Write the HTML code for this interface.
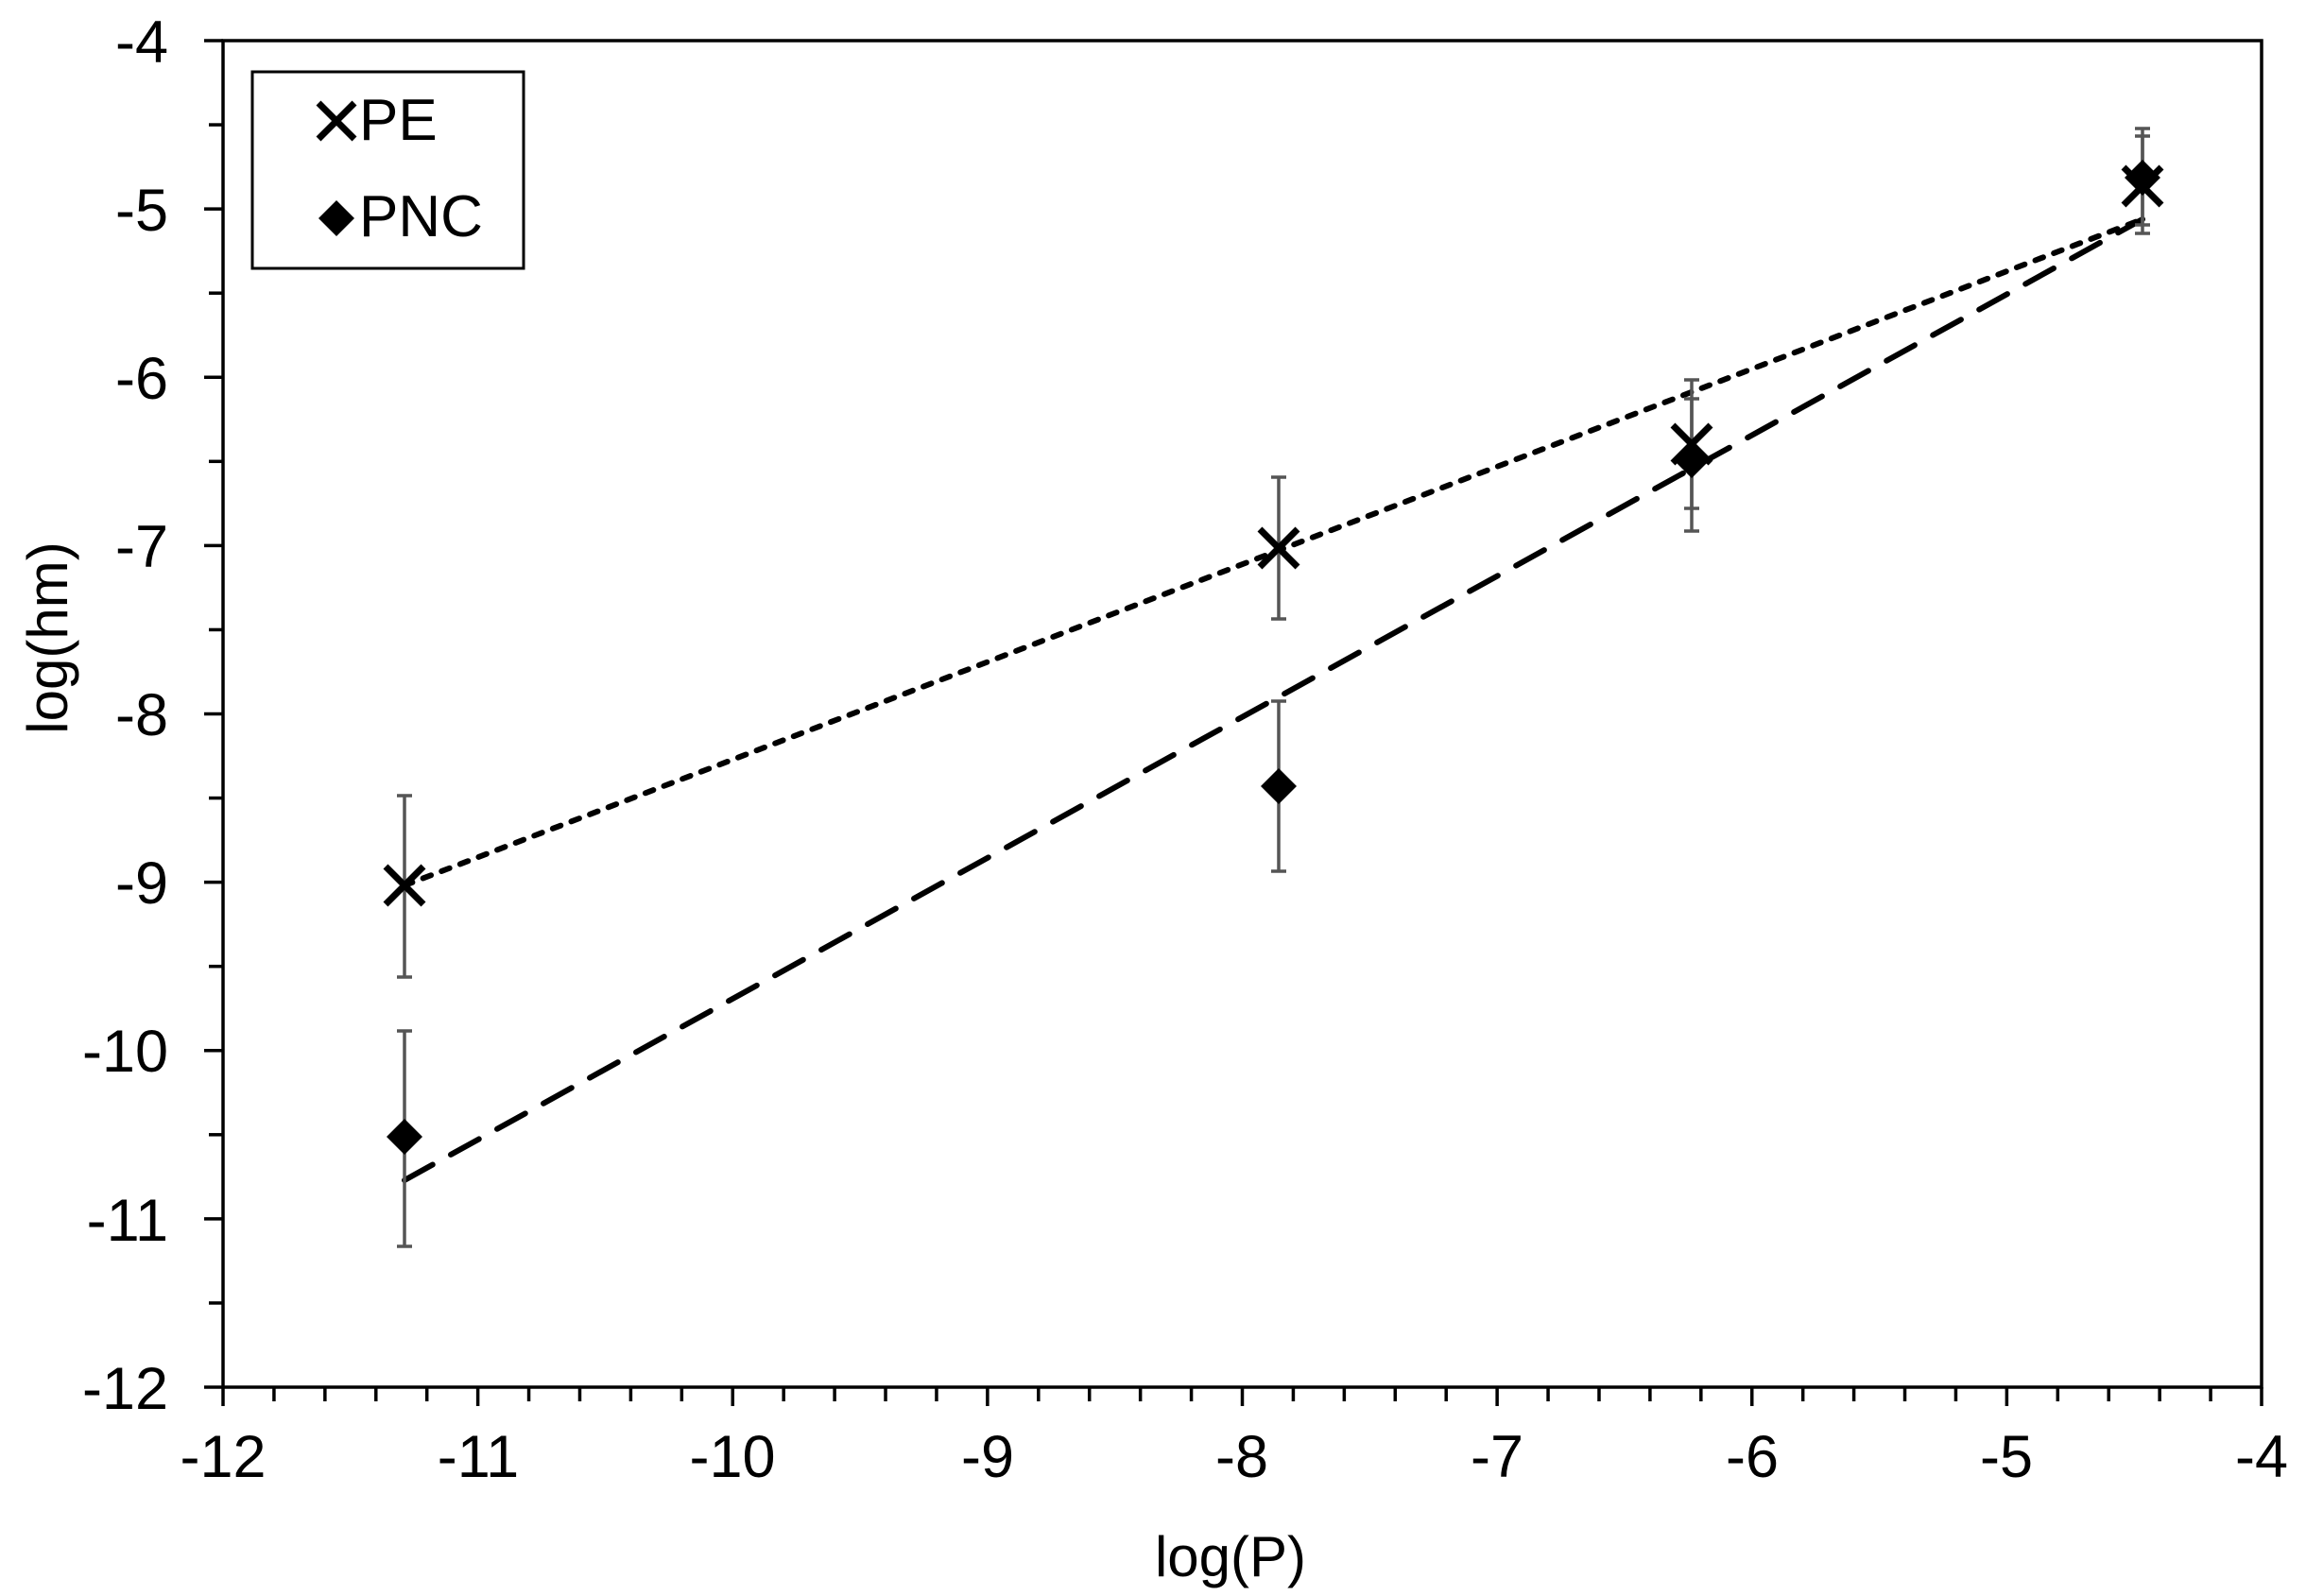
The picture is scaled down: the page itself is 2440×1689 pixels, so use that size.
<!DOCTYPE html>
<html><head><meta charset="utf-8"><style>
html,body{margin:0;padding:0;background:#fff;}
svg{display:block;}
text{font-family:"Liberation Sans",Arial,sans-serif;fill:#000;}
</style></head><body>
<svg width="2440" height="1689" viewBox="0 0 2440 1689" xmlns="http://www.w3.org/2000/svg">
<rect width="2440" height="1689" fill="#fff"/>
<g id="ticks" stroke="#000" stroke-width="3.5">
</g>
<rect x="236" y="43" width="2157" height="1425" fill="none" stroke="#000" stroke-width="3.5"/>
<script>
(function(){
var ns="http://www.w3.org/2000/svg",g=document.getElementById("ticks");
function ln(x1,y1,x2,y2){var l=document.createElementNS(ns,"line");l.setAttribute("x1",x1);l.setAttribute("y1",y1);l.setAttribute("x2",x2);l.setAttribute("y2",y2);g.appendChild(l);}
for(var i=0;i<=40;i++){var x=236+i*2157/40;ln(x,1468,x,i%5==0?1488:1483);}
for(var j=0;j<=16;j++){var y=43+j*1425/16;ln(j%2==0?216:221,y,236,y);}
})();
</script>
<g font-size="63" text-anchor="end">
<text x="178" y="66">-4</text>
<text x="178" y="244">-5</text>
<text x="178" y="422">-6</text>
<text x="178" y="600">-7</text>
<text x="178" y="778">-8</text>
<text x="178" y="956">-9</text>
<text x="178" y="1134">-10</text>
<text x="178" y="1313">-11</text>
<text x="178" y="1491">-12</text>
</g>
<g font-size="63" text-anchor="middle">
<text x="236" y="1563">-12</text>
<text x="506" y="1563">-11</text>
<text x="775" y="1563">-10</text>
<text x="1045" y="1563">-9</text>
<text x="1314" y="1563">-8</text>
<text x="1584" y="1563">-7</text>
<text x="1854" y="1563">-6</text>
<text x="2123" y="1563">-5</text>
<text x="2393" y="1563">-4</text>
<text x="1302" y="1668" font-size="60">log(P)</text>
<text x="0" y="0" font-size="60" transform="translate(71,675) rotate(-90)">log(hm)</text>
</g>
<line x1="428" y1="937" x2="2267" y2="232" stroke="#000" stroke-width="6" stroke-linecap="round" stroke-dasharray="9 12"/>
<line x1="428" y1="1249" x2="2267" y2="232" stroke="#000" stroke-width="6" stroke-linecap="round" stroke-dasharray="34 22"/>
<g stroke="#555" stroke-width="3.5" fill="none">
<path d="M428 842V1034M420 842H436M420 1034H436"/>
<path d="M428 1091V1319M420 1091H436M420 1319H436"/>
<path d="M1353 505V655M1345 505H1361M1345 655H1361"/>
<path d="M1353 742V922M1345 742H1361M1345 922H1361"/>
<path d="M1790 402V538M1782 402H1798M1782 538H1798"/>
<path d="M1790 422V562M1782 422H1798M1782 562H1798"/>
<path d="M2267 136V238M2259 136H2275M2259 238H2275"/>
<path d="M2267 144V247M2259 144H2275M2259 247H2275"/>
</g>
<g fill="#000">
<path d="M428 1184l19 19-19 19-19-19z"/>
<path d="M1353 813l19 19-19 19-19-19z"/>
<path d="M1790 468l19 19-19 19-19-19z"/>
<path d="M2267 169l19 19-19 19-19-19z"/>
</g>
<g stroke="#000" stroke-width="7">
<path d="M408 917l40 40M448 917l-40 40"/>
<path d="M1333 560l40 40M1373 560l-40 40"/>
<path d="M1770 450l40 40M1810 450l-40 40"/>
<path d="M2247 177l40 40M2287 177l-40 40"/>
</g>
<rect x="267" y="76" width="287" height="208" fill="#fff" stroke="#000" stroke-width="3"/>
<path d="M337 109l38 38M375 109l-38 38" stroke="#000" stroke-width="7"/>
<path d="M356 212l19 19-19 19-19-19z" fill="#000"/>
<text x="380" y="148" font-size="62">PE</text>
<text x="380" y="250" font-size="62">PNC</text>
</svg>
</body></html>
